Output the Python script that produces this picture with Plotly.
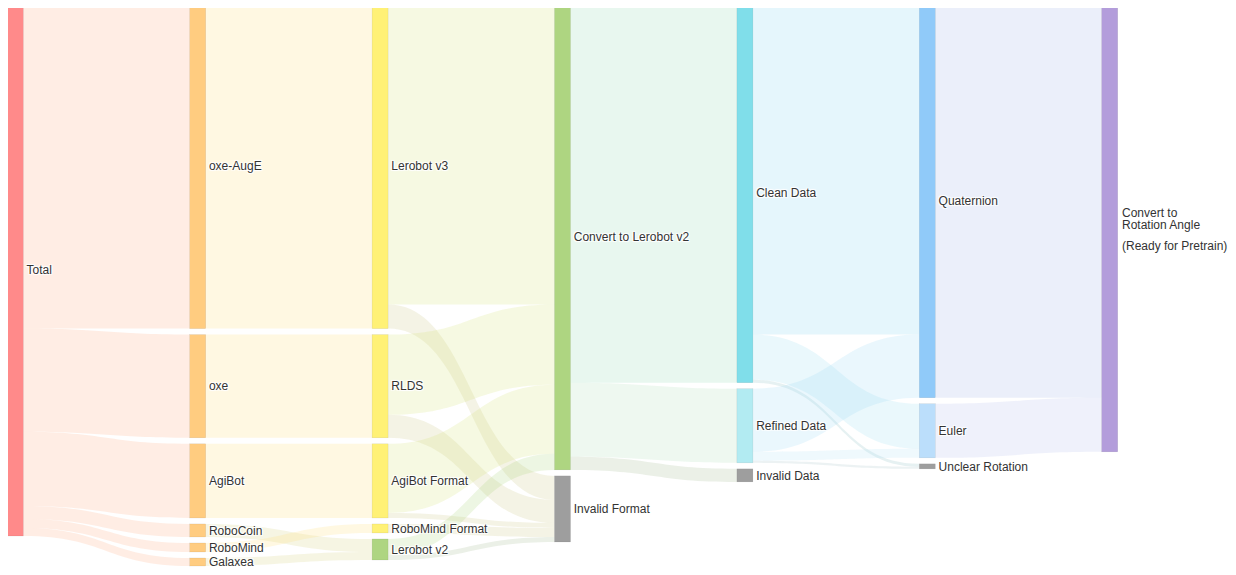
import plotly.graph_objects as go

# ---- data ----
labels = ["Total",
          "oxe-AugE", "oxe", "AgiBot", "RoboCoin", "RoboMind", "Galaxea",
          "Lerobot v3", "RLDS", "AgiBot Format", "RoboMind Format", "Lerobot v2",
          "Convert to Lerobot v2", "Invalid Format",
          "Clean Data", "Refined Data", "Invalid Data",
          "Quaternion", "Euler", "Unclear Rotation",
          "Convert to Rotation Angle"]
last_label_lines = ["Convert to", "Rotation Angle", "(Ready for Pretrain)"]

node_colors = ["#ff8a8a",
               "#ffcc80", "#ffcc80", "#ffcc80", "#ffcc80", "#ffcc80", "#ffcc80",
               "#fff176", "#fff176", "#fff176", "#fff176", "#aed581",
               "#aed581", "#9e9e9e",
               "#80deea", "#b2ebf2", "#9e9e9e",
               "#90caf9", "#bbdefb", "#9e9e9e",
               "#b39ddb"]

ROT = "Convert to Rotation Angle"
link_source = ["Total", "Total", "Total", "Total", "Total", "Total",
               "oxe-AugE", "oxe", "AgiBot", "RoboCoin", "RoboMind", "Galaxea",
               "Lerobot v3", "Lerobot v3", "RLDS", "RLDS", "AgiBot Format", "AgiBot Format",
               "RoboMind Format", "Lerobot v2", "Lerobot v2",
               "Convert to Lerobot v2", "Convert to Lerobot v2", "Convert to Lerobot v2",
               "Clean Data", "Clean Data", "Clean Data",
               "Refined Data", "Refined Data", "Refined Data",
               "Quaternion", "Euler"]
link_target = ["oxe-AugE", "oxe", "AgiBot", "RoboCoin", "RoboMind", "Galaxea",
               "Lerobot v3", "RLDS", "AgiBot Format", "Lerobot v2", "RoboMind Format", "Lerobot v2",
               "Convert to Lerobot v2", "Invalid Format", "Convert to Lerobot v2", "Invalid Format",
               "Convert to Lerobot v2", "Invalid Format",
               "Invalid Format", "Convert to Lerobot v2", "Invalid Format",
               "Clean Data", "Refined Data", "Invalid Data",
               "Quaternion", "Euler", "Unclear Rotation",
               "Quaternion", "Euler", "Unclear Rotation",
               ROT, ROT]
link_value = [325, 103, 74, 13, 9, 8,
              325, 103, 74, 13, 9, 8,
              301, 24, 80, 23, 69, 5,
              9, 16, 5,
              379, 74, 13,
              331, 45, 3,
              63, 9, 2,
              394, 54]

# ---- layout parameters ----
W, H_FIG = 1236, 575
M_T, M_B = 3, 9
H = H_FIG - M_T - M_B
PAD = 6
THICK = 16
COL_X0 = 15.3      # centre of first column (px)
COL_DX = 182.4     # column spacing (px)
OFFSET = THICK / 2  # plotly's internal shift of explicitly placed nodes
FONT = "Liberation Sans, Arial, sans-serif"

idx = {l: i for i, l in enumerate(labels)}
src = [idx[s] for s in link_source]
tgt = [idx[t] for t in link_target]
n = len(labels)

vin = [0.0] * n
vout = [0.0] * n
for s, t, v in zip(src, tgt, link_value):
    vout[s] += v
    vin[t] += v
nval = [max(a, b) for a, b in zip(vin, vout)]
depth = [0] * n
changed = True
while changed:
    changed = False
    for s, t in zip(src, tgt):
        if depth[t] < depth[s] + 1:
            depth[t] = depth[s] + 1
            changed = True

ncol = max(depth) + 1
cols = [[i for i in range(n) if depth[i] == c] for c in range(ncol)]
ky = min((H - (len(c) - 1) * PAD) / sum(nval[i] for i in c) for c in cols)

xs = [0.0] * n
ys = [0.0] * n
centers_px = [0.0] * n
for c, members in enumerate(cols):
    y0 = 0.0
    for i in members:
        h = nval[i] * ky
        centers_px[i] = y0 + h / 2
        xs[i] = (COL_X0 + COL_DX * c - OFFSET) / W
        ys[i] = (y0 + h / 2 - OFFSET) / H
        y0 += h + PAD


def hex2rgb(h):
    h = h.lstrip("#")
    return tuple(int(h[k:k + 2], 16) for k in (0, 2, 4))


link_colors = []
for s, t in zip(src, tgt):
    a = hex2rgb(node_colors[s])
    b = hex2rgb(node_colors[t])
    m = tuple(round((x + y) / 2) for x, y in zip(a, b))
    link_colors.append(f"rgba({m[0]},{m[1]},{m[2]},0.22)")

shown_labels = labels[:-1] + [""]

fig = go.Figure(go.Sankey(
    arrangement="fixed",
    domain=dict(x=[0, 1], y=[0, 1]),
    node=dict(
        label=shown_labels,
        color=node_colors,
        x=xs, y=ys,
        pad=PAD,
        thickness=THICK,
        line=dict(color="rgba(0,0,0,0.12)", width=0.5),
        align="left",
    ),
    link=dict(source=src, target=tgt, value=link_value, color=link_colors),
    textfont=dict(family=FONT, size=12, color="#333"),
))

# label of the last node, placed to the right of it
last = n - 1
lx_px = COL_X0 + COL_DX * depth[last] + THICK / 2 + 4 - 10
cy = M_T + centers_px[last] - 6
line_offsets = [-16.5, -4.5, 16.5]
for txt, dy in zip(last_label_lines, line_offsets):
    fig.add_annotation(
        x=lx_px / W, y=1 - (cy + dy - M_T) / H, xref="paper", yref="paper",
        text=txt, showarrow=False, xanchor="left", yanchor="middle",
        font=dict(family=FONT, size=12, color="#333"),
    )

fig.update_layout(
    width=W, height=H_FIG,
    margin=dict(l=0, r=0, t=M_T, b=M_B),
    paper_bgcolor="white",
    plot_bgcolor="white",
)

fig.write_html("out.html")
